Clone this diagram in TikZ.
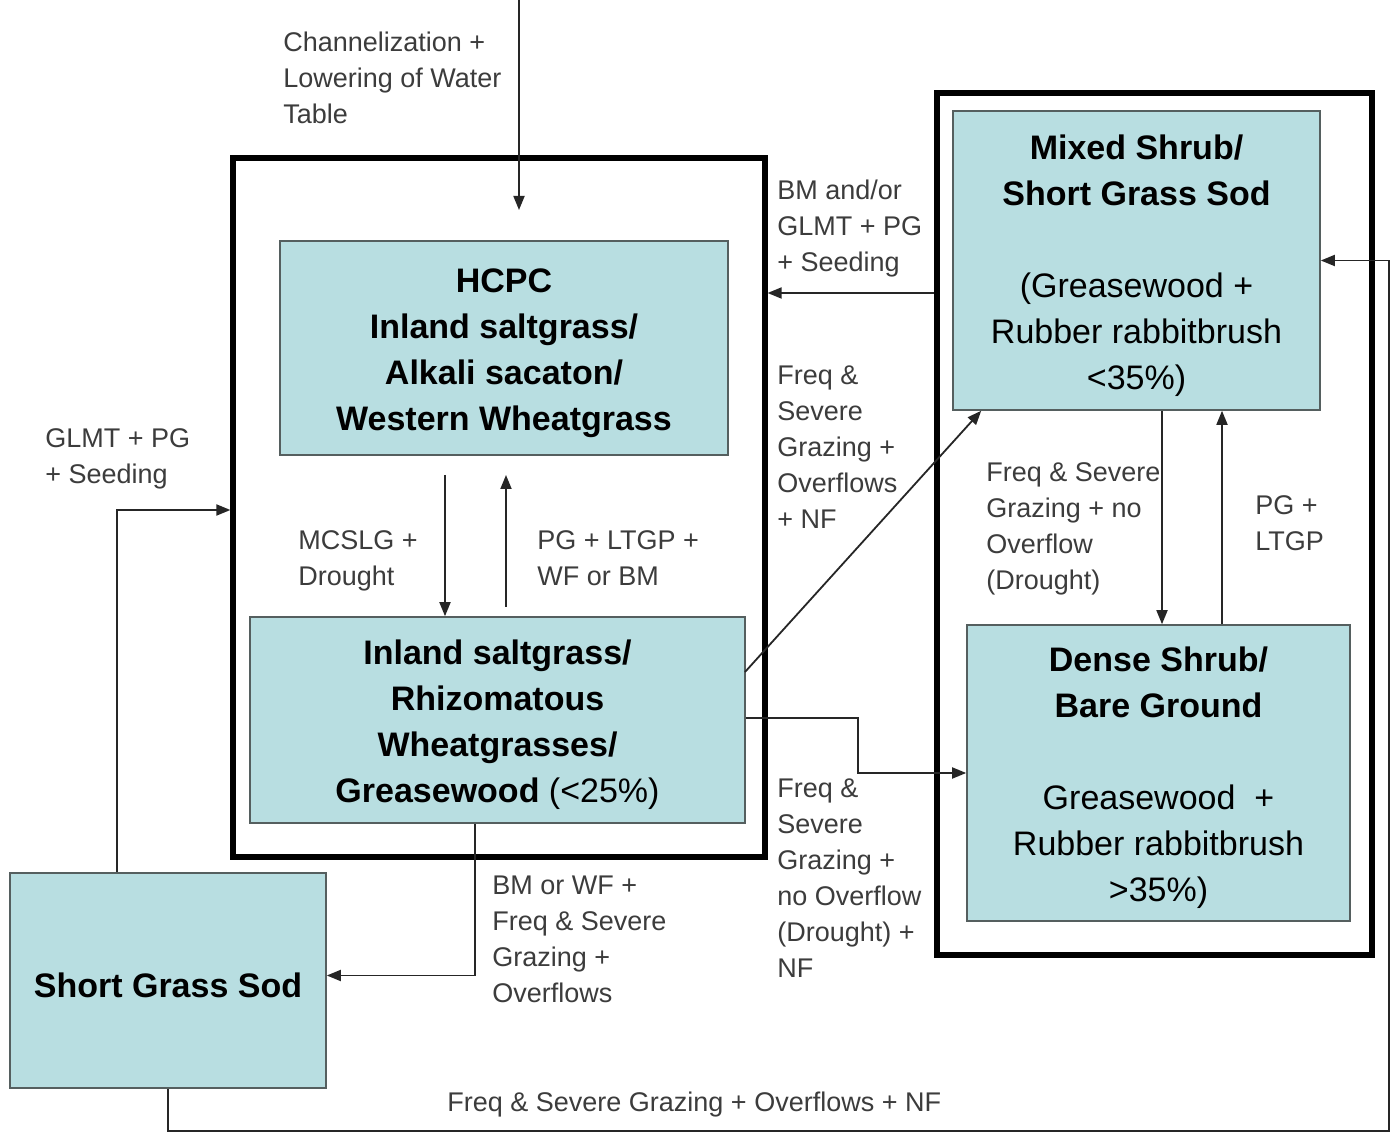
\documentclass[tikz,border=0pt]{standalone}
\usepackage{fontspec}
\setmainfont{Liberation Sans}
\usetikzlibrary{arrows.meta}
\definecolor{boxfill}{RGB}{184,222,225}
\definecolor{boxline}{RGB}{85,95,95}
\definecolor{labtext}{RGB}{60,60,60}
\begin{document}
\begin{tikzpicture}[x=0.5pt,y=-0.5pt,
 statebox/.style={draw=boxline, line width=0.8pt, fill=boxfill, inner sep=0pt},
 statetext/.style={inner sep=0pt, align=center, yshift=-2.5pt, font=\fontsize{17}{23}\selectfont\bfseries},
 outerbox/.style={draw=black, line width=2.6pt, inner sep=0pt},
 arr/.style={line width=0.9pt, draw=black!85, -{Triangle[length=7pt,width=5.5pt]}},
 lab/.style={anchor=north west, inner sep=0pt, align=left, text=labtext, font=\fontsize{13.5}{18}\selectfont}]
\useasboundingbox (0,0) rectangle (1393,1133);
\fill[white] (0,0) rectangle (1393,1133);

% outer groups
\node[outerbox, minimum width=266pt, minimum height=349.5pt] (LeftOuter) at (499,507.5) {};
\node[outerbox, minimum width=217.5pt, minimum height=431pt] (RightOuter) at (1154.5,524) {};

% states
\node[statebox, minimum width=224pt, minimum height=107pt] (HCPC) at (504,348) {};
\node[statetext] (HCPCt) at (HCPC.center)
  {HCPC\\Inland saltgrass/\\Alkali sacaton/\\Western Wheatgrass};
\node[statebox, minimum width=247.5pt, minimum height=103pt] (Inland) at (497.5,720) {};
\node[statetext] (Inlandt) at (Inland.center)
  {Inland saltgrass/\\Rhizomatous\\Wheatgrasses/\\Greasewood {\mdseries(<25\%)}};
\node[statebox, minimum width=183.5pt, minimum height=149.5pt] (Mixed) at (1136.5,260.5) {};
\node[statetext] (Mixedt) at (Mixed.center)
  {Mixed Shrub/\\Short Grass Sod\\[23pt]\mdseries(Greasewood +\\\mdseries Rubber rabbitbrush\\\mdseries<35\%)};
\node[statebox, minimum width=191.5pt, minimum height=148pt] (Dense) at (1158.5,773) {};
\node[statetext] (Denset) at (Dense.center)
  {Dense Shrub/\\Bare Ground\\[23pt]\mdseries Greasewood\ \ +\\\mdseries Rubber rabbitbrush\\\mdseries>35\%)};
\node[statebox, minimum width=158pt, minimum height=107.5pt] (Short) at (168,980.5) {};
\node[statetext] (Shortt) at (Short.center) {Short Grass Sod};

% coordinates
\coordinate (topin) at (519,0);
\coordinate (topend) at (519,210);
\coordinate (d1) at (445,475);
\coordinate (u1) at (506,607);
\coordinate (u1e) at (506,475);
\coordinate (y293) at (0,293);
\coordinate (diag) at (745,672);
\coordinate (y718) at (0,718);
\coordinate (x1162) at (1162,0);
\coordinate (x1222) at (1222,0);
\coordinate (x475) at (475,0);
\coordinate (x117) at (117,0);
\coordinate (y510) at (0,510);
\coordinate (bl) at (168,1131);
\coordinate (br) at (1389,1131);

% connectors
\draw[arr] (topin) -- (topend);
\draw[arr] (d1) -- (d1 |- Inland.north);
\draw[arr] (u1) -- (u1e);
\draw[arr] (RightOuter.west |- y293) -- (LeftOuter.east |- y293);
\draw[arr] (diag) -- ([xshift=14.5pt]Mixed.south west);
\draw[arr] (Inland.east |- y718) -- ++(112,0) |- (Dense.west);
\draw[arr] (x1162 |- Mixed.south) -- (x1162 |- Dense.north);
\draw[arr] (x1222 |- Dense.north) -- (x1222 |- Mixed.south);
\draw[arr] (x475 |- Inland.south) |- ([yshift=2.5pt]Short.east);
\draw[arr] (x117 |- Short.north) |- (LeftOuter.west |- y510);
\draw[arr] (Short.south) -- (bl) -- (br) |- (Mixed.east);

% labels
\node[lab] (l1) at (283,32) {Channelization +\\Lowering of Water\\Table};
\node[lab] (l2) at (298,530) {MCSLG +\\Drought};
\node[lab] (l3) at (537,530) {PG + LTGP +\\WF or BM};
\node[lab] (l4) at (777,180) {BM and/or\\GLMT + PG\\+ Seeding};
\node[lab] (l5) at (777,365) {Freq \&\\Severe\\Grazing +\\Overflows\\+ NF};
\node[lab] (l6) at (777,778) {Freq \&\\Severe\\Grazing +\\no Overflow\\(Drought) +\\NF};
\node[lab] (l7) at (986,462) {Freq \& Severe\\Grazing + no\\Overflow\\(Drought)};
\node[lab] (l8) at (1255,495) {PG +\\LTGP};
\node[lab] (l9) at (492,876) {BM or WF +\\Freq \& Severe\\Grazing +\\Overflows};
\node[lab] (l10) at (45,428) {GLMT + PG\\+ Seeding};
\node[lab] (l11) at (447,1092) {Freq \& Severe Grazing + Overflows + NF};
\end{tikzpicture}
\end{document}
